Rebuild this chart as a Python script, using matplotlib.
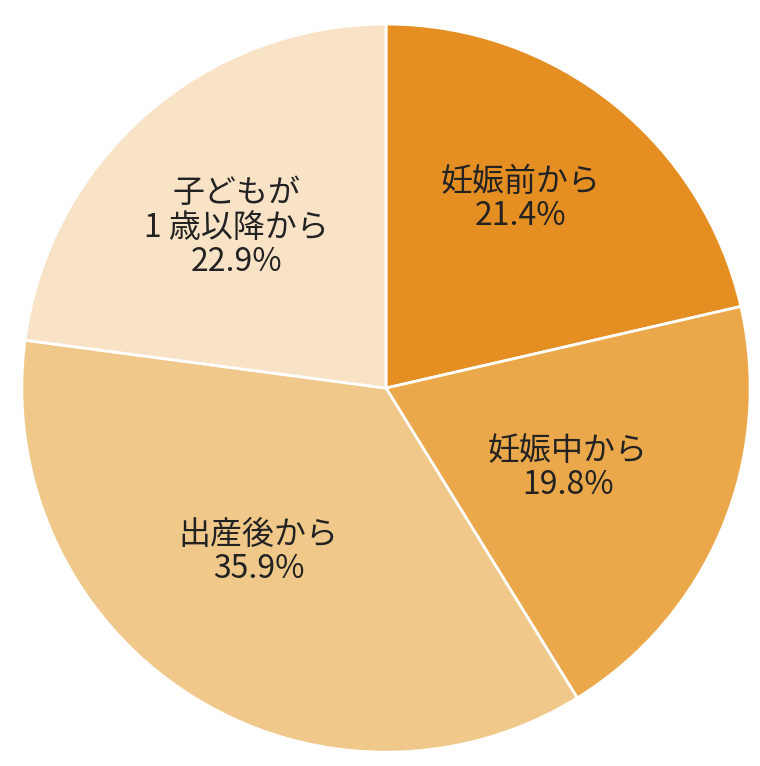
import matplotlib
matplotlib.use("Agg")
import matplotlib.pyplot as plt

plt.rcParams['font.family'] = ['Noto Sans CJK JP', 'DejaVu Sans']

labels = ["妊娠前から", "妊娠中から", "出産後から", "子どもが\n1 歳以降から"]
values = [21.4, 19.8, 35.9, 22.9]
colors = ["#E58E22", "#EBA84A", "#F0C98A", "#F8E3C7"]
label_pos = [(0.37, 0.52), (0.50, -0.22), (-0.35, -0.45), (-0.41, 0.44)]

fig = plt.figure(figsize=(7.6, 7.66), dpi=100)
ax = fig.add_axes([0, 0, 1, 1])
ax.pie(values, colors=colors, startangle=90, counterclock=False,
       wedgeprops=dict(edgecolor="white", linewidth=2), radius=1.0)
for lab, v, (x, y) in zip(labels, values, label_pos):
    ax.text(x, y, f"{lab}\n{v:.1f}%", ha="center", va="center",
            fontsize=23, color="#222222", linespacing=1.1)
ax.set_xlim(-1.060, 1.027)
ax.set_ylim(-1.038, 1.066)
ax.set_aspect("auto")
ax.axis("off")
fig.savefig("out.png", dpi=100)
